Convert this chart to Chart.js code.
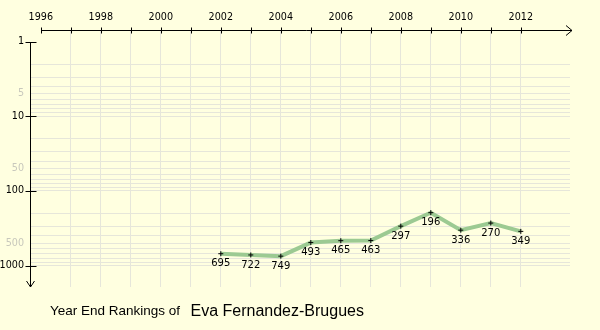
<!DOCTYPE html>
<html>
<head>
<meta charset="utf-8">
<script src="https://cdn.jsdelivr.net/npm/chart.js@4"></script>
<style>
  html, body { margin: 0; padding: 0; background: #ffffe0; }
  #rankChart { display: block; }
</style>
</head>
<body>
<canvas id="rankChart" width="600" height="330"></canvas>
<script>
const years = [2002, 2003, 2004, 2005, 2006, 2007, 2008, 2009, 2010, 2011, 2012];
const rankings = [695, 722, 749, 493, 465, 463, 297, 196, 336, 270, 349];

// top axis: a tick every year, a label every other year
const yearTicks = [1996, 1997, 1998, 1999, 2000, 2001, 2002, 2003, 2004, 2005, 2006, 2007, 2008, 2009, 2010, 2011, 2012];
const yearLabels = [1996, 1998, 2000, 2002, 2004, 2006, 2008, 2010, 2012];

// left axis: strong labels on decades, faint ones on the fives
const rankMajor = [1, 10, 100, 1000];
const rankMinor = [5, 50, 500];

const playerName = 'Eva Fernandez-Brugues';

const gridColor = '#e6e6da';
const tickFont = { family: 'DejaVu Sans', size: 9.6 };

// one grid line per 1..9 step of every decade
const rankGrid = [];
for (let d = 1; d <= 100; d *= 10) {
    for (let k = 1; k < 10; k++) rankGrid.push(k * d);
}
rankGrid.push(1000);

// axis lines, arrow heads and the tick marks crossing them
const axesPlugin = {
    id: 'axes',
    afterDraw(chart) {
        const ctx = chart.ctx;
        const xs = chart.scales.x, ys = chart.scales.y;
        const ax = Math.round(ys.left + ys.width) + 0.5;   // y axis line
        const ay = Math.round(xs.bottom) + 0.5;            // x axis line
        const x0 = Math.round(xs.getPixelForValue(yearTicks[0])) + 0.5;
        const y0 = Math.round(ys.getPixelForValue(rankMajor[0])) + 0.5;
        const xEnd = chart.chartArea.right + 2;
        const yEnd = chart.chartArea.bottom;
        ctx.save();
        ctx.strokeStyle = '#000';
        ctx.lineWidth = 1;
        ctx.beginPath();
        ctx.moveTo(x0, ay); ctx.lineTo(xEnd, ay);
        ctx.moveTo(xEnd - 6, ay - 5); ctx.lineTo(xEnd, ay); ctx.lineTo(xEnd - 6, ay + 5);
        ctx.moveTo(ax, y0); ctx.lineTo(ax, yEnd);
        ctx.moveTo(ax - 4, yEnd - 6); ctx.lineTo(ax, yEnd); ctx.lineTo(ax + 4, yEnd - 6);
        yearTicks.forEach(v => {
            const px = Math.round(xs.getPixelForValue(v)) + 0.5;
            ctx.moveTo(px, ay - 3); ctx.lineTo(px, ay + 3);
        });
        rankMajor.forEach(v => {
            const py = Math.round(ys.getPixelForValue(v)) + 0.5;
            ctx.moveTo(ax - 5, py); ctx.lineTo(ax + 6, py);
        });
        ctx.stroke();
        ctx.restore();
    }
};

// ranking printed under each point
const valueLabels = {
    id: 'valueLabels',
    afterDatasetsDraw(chart) {
        const ctx = chart.ctx;
        const meta = chart.getDatasetMeta(0);
        ctx.save();
        ctx.font = '10px "DejaVu Sans"';
        ctx.fillStyle = '#000';
        ctx.textAlign = 'center';
        ctx.textBaseline = 'top';
        meta.data.forEach((pt, i) => {
            ctx.fillText(String(rankings[i]), pt.x, pt.y + 5);
        });
        ctx.restore();
    }
};

// caption line below the plot
const caption = {
    id: 'caption',
    afterDraw(chart) {
        const ctx = chart.ctx;
        ctx.save();
        ctx.fillStyle = '#000';
        ctx.textBaseline = 'alphabetic';
        ctx.textAlign = 'left';
        ctx.font = '13.5px "Liberation Sans"';
        ctx.fillText('Year End Rankings of', 50, 315);
        ctx.font = '16px "Liberation Sans"';
        ctx.fillText(playerName, 190.5, 315.5);
        ctx.restore();
    }
};

const data = {
    datasets: [{
        label: playerName,
        data: years.map((y, i) => ({ x: y, y: rankings[i] })),
        borderColor: '#9cca92',
        borderWidth: 4,
        tension: 0,
        pointStyle: 'cross',
        pointRadius: 2.5,
        pointBorderColor: '#000',
        pointBorderWidth: 1,
        pointHoverRadius: 2.5
    }]
};

const config = {
    type: 'line',
    data: data,
    options: {
        responsive: false,
        animation: false,
        events: [],
        layout: { padding: { left: 0, top: 0, right: 30, bottom: 43 } },
        plugins: {
            legend: { display: false },
            tooltip: { enabled: false },
            title: { display: false }
        },
        scales: {
            x: {
                type: 'linear',
                position: 'top',
                min: 1995.64,
                max: 2013.64,
                afterFit: s => { s.height = 30; },
                afterBuildTicks: s => { s.ticks = yearTicks.map(v => ({ value: v })); },
                grid: {
                    color: c => (c.tick && c.tick.value === yearTicks[0]) ? 'rgba(0,0,0,0)' : gridColor,
                    drawTicks: false,
                    lineWidth: 1
                },
                border: { display: false },
                ticks: {
                    autoSkip: false,
                    maxRotation: 0,
                    padding: 7,
                    color: '#000',
                    font: tickFont,
                    callback: v => yearLabels.includes(v) ? String(v) : ''
                }
            },
            y: {
                type: 'logarithmic',
                position: 'left',
                reverse: true,
                min: 0.72,
                max: 1940,
                afterFit: s => { s.width = 30; },
                afterBuildTicks: s => { s.ticks = rankGrid.map(v => ({ value: v })); },
                grid: {
                    color: c => (c.tick && c.tick.value === 1) ? 'rgba(0,0,0,0)' : gridColor,
                    drawTicks: false,
                    lineWidth: 1
                },
                border: { display: false },
                ticks: {
                    autoSkip: false,
                    padding: 6,
                    font: tickFont,
                    color: c => (c.tick && rankMinor.includes(c.tick.value)) ? '#c8c8bc' : '#000',
                    callback: v => (rankMajor.includes(v) || rankMinor.includes(v)) ? String(v) : ''
                }
            }
        }
    },
    plugins: [axesPlugin, valueLabels, caption]
};

const rankChart = new Chart(document.getElementById('rankChart'), config);
</script>
</body>
</html>
